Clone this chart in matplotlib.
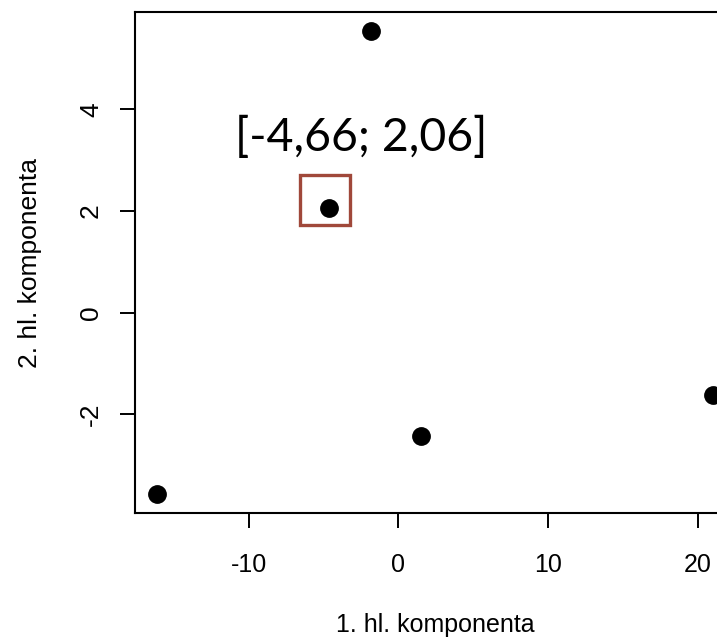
import matplotlib
matplotlib.use('Agg')
import matplotlib.pyplot as plt
from matplotlib.transforms import ScaledTranslation

# skóre prvních dvou hlavních komponent
pc1 = [-16.1, -4.66, -1.8, 1.5, 21.0]
pc2 = [-3.58, 2.06, 5.55, -2.42, -1.63]
highlight = 1  # zvýrazněný bod
label = '[-4,66; 2,06]'
xticks = [-10, 0, 10, 20]
yticks = [-2, 0, 2, 4]

plt.rcParams['font.family'] = ['Liberation Sans', 'DejaVu Sans']

fig = plt.figure(figsize=(7.17, 6.4), dpi=100)
# osa přesahuje pravý okraj obrázku (oříznutý výstup z R)
ax = fig.add_axes([135 / 717, 127 / 640, 600 / 717, 501 / 640])

ax.scatter(pc1, pc2, s=12.5 ** 2, color='black', zorder=3, clip_on=False)

# rámeček kolem zvýrazněného bodu
hx, hy = pc1[highlight], pc2[highlight]
shift = ScaledTranslation(-4 / 100, 8 / 100, fig.dpi_scale_trans)
ax.plot([hx], [hy], marker='s', markersize=35.5, markerfacecolor='none',
        markeredgecolor='#A0483A', markeredgewidth=2.4, linestyle='none',
        transform=ax.transData + shift)
ax.annotate(label, xy=(hx, hy), xytext=(33, 57), textcoords='offset pixels',
            ha='center', va='baseline', fontsize=33.5, family=['Lato', 'DejaVu Sans'])

# rozsah os jako v R (4 % okraj)
rng_x = max(pc1) - min(pc1)
rng_y = max(pc2) - min(pc2)
ax.set_xlim(min(pc1) - 0.04 * rng_x, max(pc1) + 0.04 * rng_x)
ax.set_ylim(min(pc2) - 0.04 * rng_y, max(pc2) + 0.04 * rng_y)

ax.set_xticks(xticks)
ax.set_yticks(yticks)
ax.set_xticklabels([str(t) for t in xticks])
ax.set_yticklabels([str(t) for t in yticks], rotation=90, va='center')
ax.tick_params(length=11, width=1.4)
ax.tick_params(axis='x', pad=18, labelsize=18)
ax.tick_params(axis='y', pad=12, labelsize=19)

for sp in ax.spines.values():
    sp.set_linewidth(1.5)

ax.set_xlabel('1. hl. komponenta', fontsize=18, labelpad=26)
ax.set_ylabel('2. hl. komponenta', fontsize=19, labelpad=27)

fig.savefig('out.png', dpi=100)
plt.close(fig)
